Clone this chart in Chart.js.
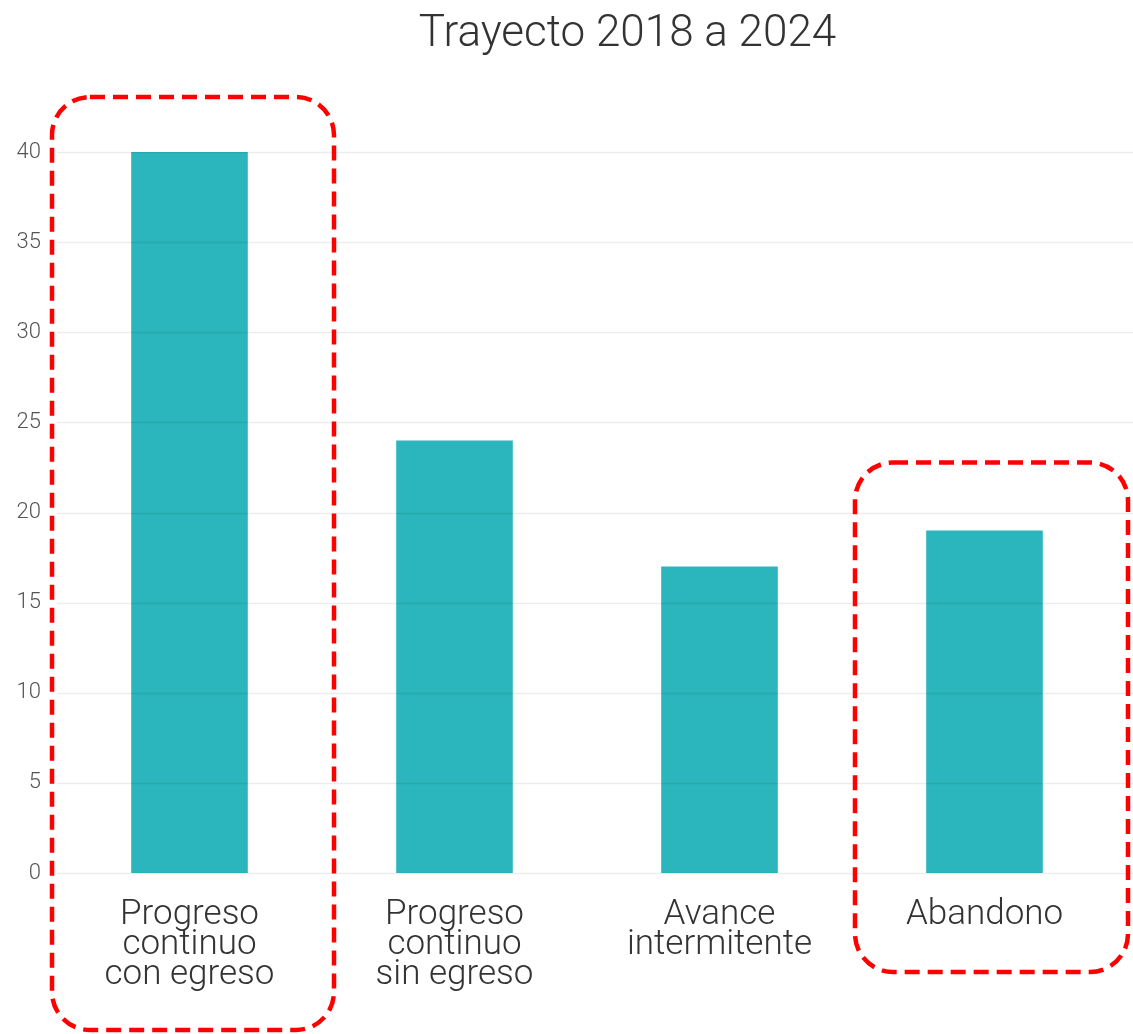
<!DOCTYPE html>
<html>
<head>
<meta charset="utf-8">
<title>Trayecto 2018 a 2024</title>
<script src="https://cdn.jsdelivr.net/npm/chart.js@4/dist/chart.umd.min.js"></script>
<style>
  html, body { margin: 0; padding: 0; background: #fff; overflow: hidden; }
  #wrap { position: relative; width: 1133px; height: 1034px; }
</style>
</head>
<body>
<div id="wrap"><canvas id="chart"></canvas></div>
<script>
// Student trajectories, cohort 2018 to 2024
const chartTitle = 'Trayecto 2018 a 2024';
const categories = [
  ['Progreso', 'continuo', 'con egreso'],
  ['Progreso', 'continuo', 'sin egreso'],
  ['Avance', 'intermitente'],
  'Abandono'
];
const students = [40, 24, 17, 19];
const yTicks = [0, 5, 10, 15, 20, 25, 30, 35, 40];
const highlighted = [0, 3];

// Heading, drawn a little right of the page centre
const heading = {
  id: 'heading',
  afterDraw(chart, args, opts) {
    const { ctx, width } = chart;
    ctx.save();
    ctx.fillStyle = opts.color;
    ctx.font = opts.font;
    ctx.textAlign = 'center';
    ctx.textBaseline = 'alphabetic';
    ctx.fillText(opts.text, width / 2 + opts.shift, opts.baseline);
    ctx.restore();
  }
};

// Horizontal grid lines drawn on top of the bars, running to the page edge
const gridOverlay = {
  id: 'gridOverlay',
  afterDatasetsDraw(chart) {
    const { ctx, chartArea, width } = chart;
    const y = chart.scales.y;
    ctx.save();
    ctx.strokeStyle = 'rgba(0,0,0,0.075)';
    ctx.lineWidth = 1.5;
    yTicks.forEach(v => {
      const py = Math.round(y.getPixelForValue(v)) + 0.5;
      ctx.beginPath();
      ctx.moveTo(chartArea.left, py);
      ctx.lineTo(width, py);
      ctx.stroke();
    });
    ctx.restore();
  }
};

// Dashed rounded frames around selected categories
const frames = {
  id: 'frames',
  afterDraw(chart, args, opts) {
    const { ctx, chartArea } = chart;
    const x = chart.scales.x, y = chart.scales.y;
    const half = (x.getPixelForValue(1) - x.getPixelForValue(0)) / 2;
    ctx.save();
    ctx.strokeStyle = opts.color;
    ctx.lineWidth = opts.lineWidth;
    ctx.setLineDash(opts.dash);
    opts.boxes.forEach(b => {
      const i = highlighted[b.slot];
      const cx = x.getPixelForValue(i);
      const left = cx - half - b.padLeft;
      const right = cx + half + b.padRight;
      const top = y.getPixelForValue(students[i]) - b.above;
      const bottom = chartArea.bottom + b.below;
      ctx.beginPath();
      ctx.roundRect(left, top, right - left, bottom - top, opts.radius);
      ctx.stroke();
    });
    ctx.restore();
  }
};

new Chart(document.getElementById('chart'), {
  type: 'bar',
  data: {
    labels: categories,
    datasets: [{
      data: students,
      backgroundColor: '#2bb5bc',
      borderWidth: 0,
      categoryPercentage: 1,
      barPercentage: 0.44
    }]
  },
  options: {
    responsive: true,
    maintainAspectRatio: false,
    animation: false,
    devicePixelRatio: 1,
    layout: { padding: { top: 152, right: 16, bottom: 0, left: 0 } },
    plugins: {
      legend: { display: false },
      tooltip: { enabled: false },
      title: { display: false },
      heading: {
        text: chartTitle,
        color: '#333',
        font: '300 44px Roboto',
        shift: 61,
        baseline: 46
      },
      frames: {
        color: '#ff0000',
        lineWidth: 4.5,
        dash: [15, 8],
        radius: 38,
        boxes: [
          { slot: 0, padLeft: 5, padRight: 12, above: 55, below: 157 },
          { slot: 1, padLeft: -3, padRight: 11, above: 68, below: 99 }
        ]
      }
    },
    scales: {
      x: {
        grid: { display: false, drawTicks: false },
        border: { display: false },
        ticks: {
          color: '#333',
          font: { family: 'Roboto', size: 35, weight: 300, lineHeight: '30px' },
          padding: 27,
          maxRotation: 0,
          autoSkip: false
        },
        afterFit(scale) { scale.height = 161; }
      },
      y: {
        min: 0,
        max: 40,
        grid: { display: false, drawTicks: false },
        border: { display: false },
        afterBuildTicks(scale) { scale.ticks = yTicks.map(v => ({ value: v })); },
        ticks: {
          color: '#555',
          font: { family: 'Roboto', size: 22, weight: 300 },
          padding: 16
        },
        afterFit(scale) { scale.width = 57; }
      }
    }
  },
  plugins: [gridOverlay, frames, heading]
});
</script>
</body>
</html>
